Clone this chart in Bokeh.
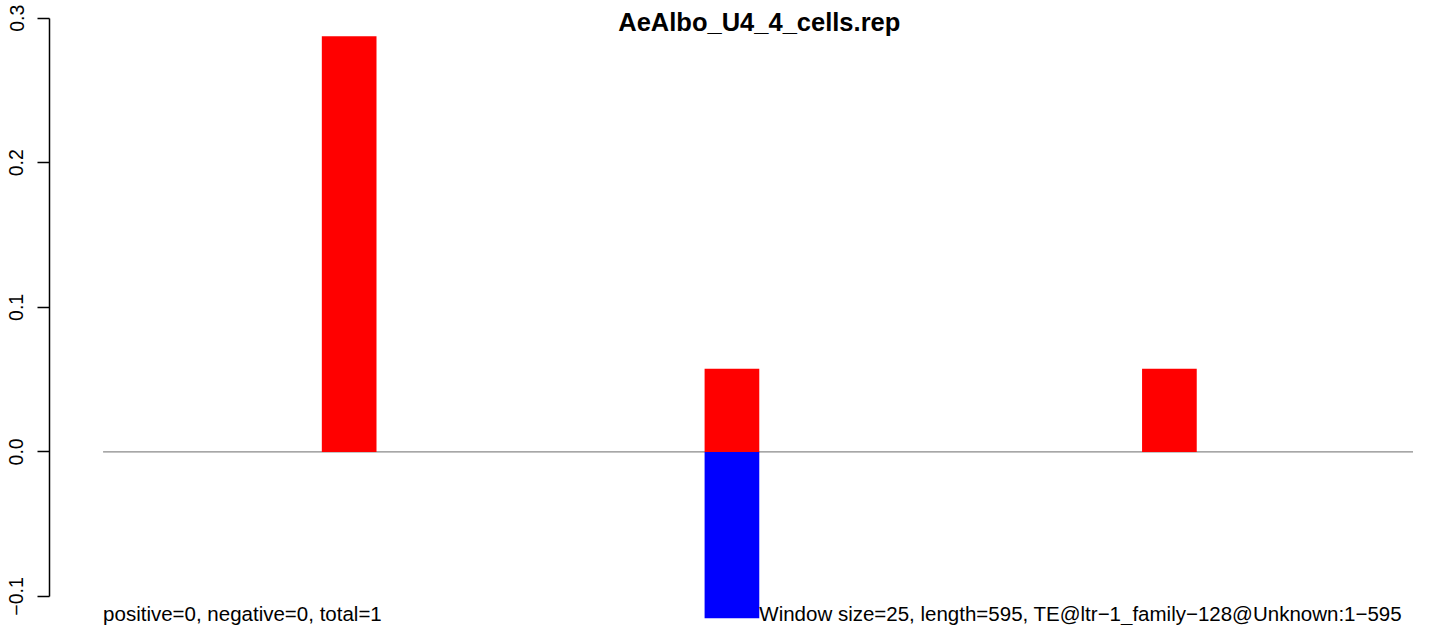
from bokeh.plotting import figure
from bokeh.models import Range1d, FixedTicker, ColumnDataSource
from bokeh.core.properties import value
from bokeh.embed import file_html
from bokeh.resources import INLINE

# ---- data ----
title_text = "AeAlbo_U4_4_cells.rep"
window_size = 25
seq_length = 595
x_limit = 600
window_starts = [100, 275, 475]
positive_values = [0.2875, 0.0575, 0.0575]
negative_values = [0.0, -0.115, 0.0]
y_ticks = [-0.1, 0.0, 0.1, 0.2, 0.3]
y_tick_labels = ["\u22120.1", "0.0", "0.1", "0.2", "0.3"]
left_note = "positive=0, negative=0, total=1"
right_note = "Window size=25, length=595, TE@ltr\u22121_family\u2212128@Unknown:1\u2212595"

FONT = "Liberation Sans"

p = figure(width=1413, height=625, output_backend="svg", toolbar_location=None,
           x_range=Range1d(-24.5, 599.1), y_range=Range1d(-0.1201, 0.31228),
           x_axis_location=None, min_border_left=49, min_border_right=0,
           min_border_top=0, min_border_bottom=0)
p.outline_line_color = None
p.grid.visible = False
p.background_fill_color = "white"
p.border_fill_color = "white"

yax = p.yaxis[0]
yax.ticker = FixedTicker(ticks=y_ticks)
yax.major_label_overrides = dict(zip(y_ticks, y_tick_labels))
yax.bounds = (y_ticks[0], y_ticks[-1])
yax.minor_tick_line_color = None
yax.major_tick_out = 12
yax.major_tick_in = 0
yax.axis_line_width = 1.5
yax.major_tick_line_width = 1.5
yax.axis_line_color = "black"
yax.major_tick_line_color = "black"
yax.major_label_orientation = "vertical"
yax.major_label_standoff = 14
yax.major_label_text_font = FONT
yax.major_label_text_font_size = "19.5px"
yax.major_label_text_color = "black"

# zero line
p.segment(x0=[0], y0=[0], x1=[x_limit], y1=[0], line_color="#8a8a8a", line_width=1.3)

# positive bars
pos = ColumnDataSource(dict(
    x=[s + window_size / 2 for s, v in zip(window_starts, positive_values) if v != 0],
    top=[v for v in positive_values if v != 0]))
p.vbar(x="x", top="top", bottom=0, width=window_size, source=pos,
       fill_color="#FF0000", line_color=None)

neg = ColumnDataSource(dict(
    x=[s + window_size / 2 for s, v in zip(window_starts, negative_values) if v != 0],
    bottom=[v for v in negative_values if v != 0]))
p.vbar(x="x", top=0, bottom="bottom", width=window_size, source=neg,
       fill_color="#0000FF", line_color=None)

# title
p.text(x=[x_limit / 2], y=[0.2971], text=[title_text], text_align="center",
       text_baseline="alphabetic", text_font=value(FONT), text_font_style="bold",
       text_font_size="25.5px", text_color="black")

# bottom notes
p.text(x=[0, x_limit / 2], y=[-0.1120, -0.1120], text=[left_note, right_note],
       text_align="left", text_baseline="alphabetic", text_font=value(FONT),
       text_font_size="20.5px", text_color="black")

open("out.html", "w").write(file_html(p, INLINE))
